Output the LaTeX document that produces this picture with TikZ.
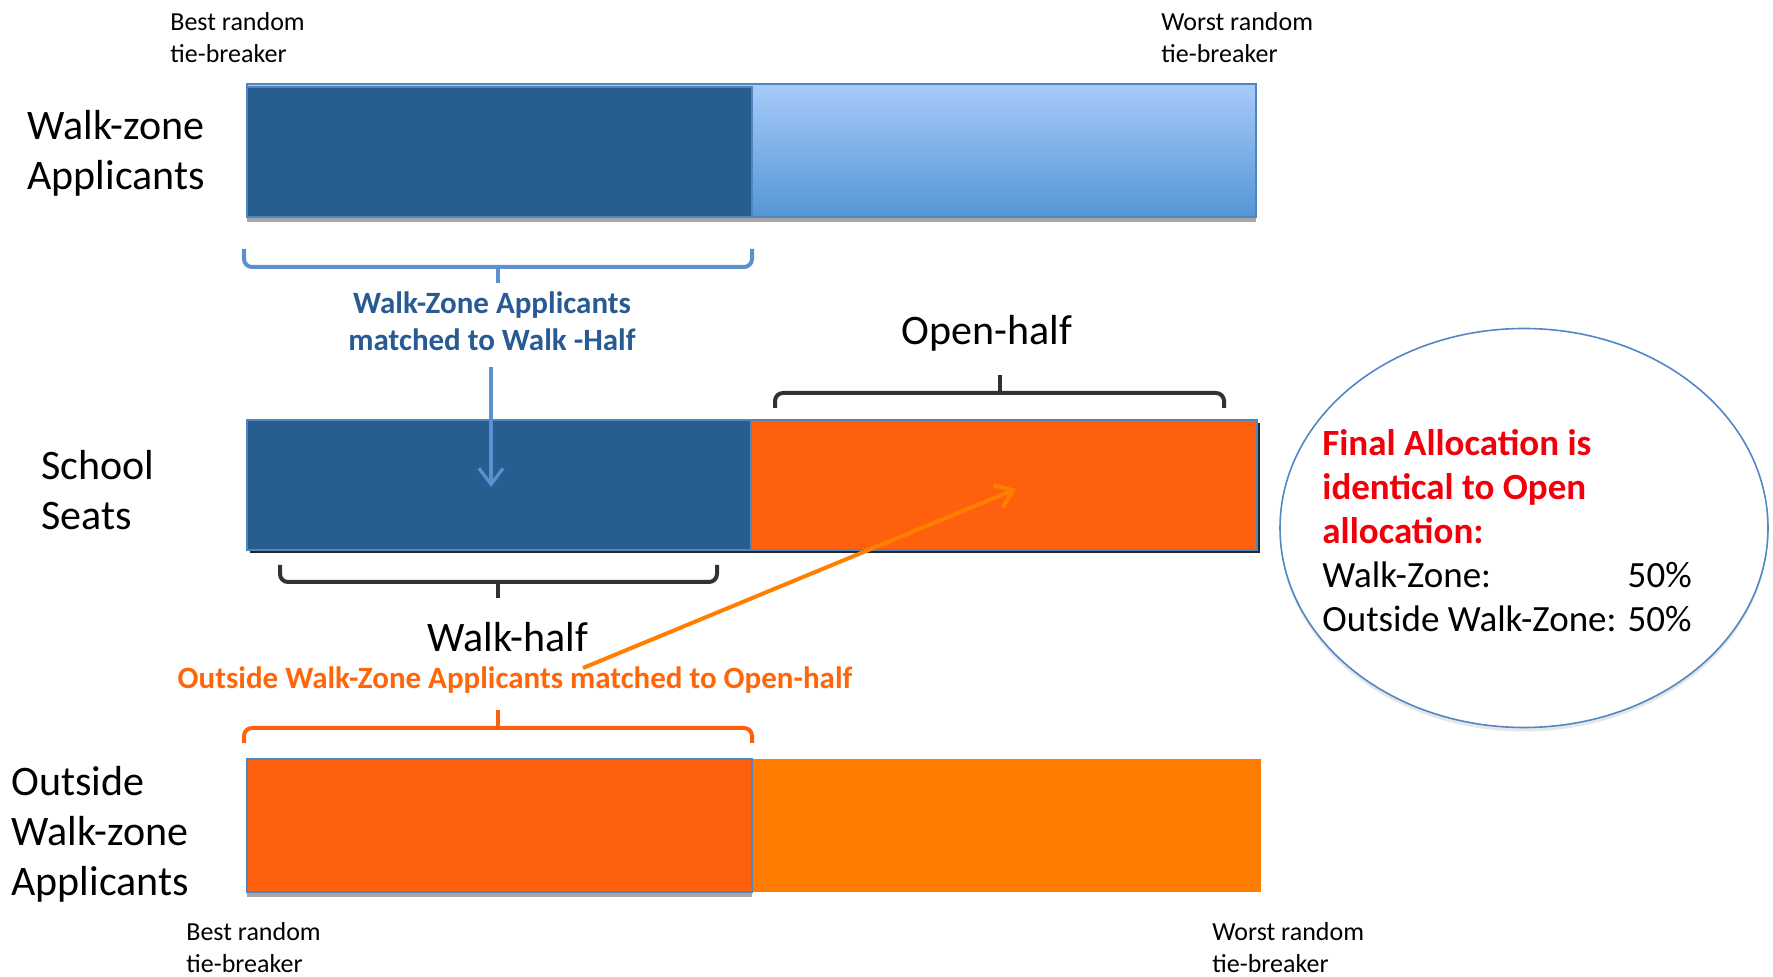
\documentclass[tikz,border=0pt]{standalone}
\usepackage{fontspec}
\setmainfont{Carlito}
\usetikzlibrary{arrows.meta,shadows,shapes.geometric}

\definecolor{walkdark}{RGB}{40,94,143}
\definecolor{walktop}{RGB}{167,203,250}
\definecolor{walkbottom}{RGB}{84,150,214}
\definecolor{barline}{RGB}{82,132,192}
\definecolor{opendark}{RGB}{255,96,14}
\definecolor{openlight}{RGB}{255,124,0}
\definecolor{openarrow}{RGB}{255,128,0}
\definecolor{opentext}{RGB}{255,102,10}
\definecolor{walkbrace}{RGB}{92,144,208}
\definecolor{walktext}{RGB}{40,90,148}
\definecolor{halfbrace}{RGB}{50,50,50}
\definecolor{allocred}{RGB}{240,0,10}
\definecolor{ringline}{RGB}{84,134,198}

\begin{document}
\begin{tikzpicture}[x=0.5pt, y=-0.5pt,
  bar/.style = {rectangle, anchor=north west, inner sep=0pt, outer sep=0pt,
    draw=barline, line width=0.7pt},
  barshadow/.style = {drop shadow={shadow xshift=0pt, shadow yshift=-2.5pt,
    opacity=0.35, fill=black}},
  rowlabel/.style = {anchor=west, align=left, inner sep=0pt,
    font=\fontsize{21}{25}\selectfont},
  halflabel/.style = {inner sep=0pt, font=\fontsize{21}{25}\selectfont},
  endlabel/.style = {anchor=west, align=left, inner sep=0pt,
    font=\fontsize{13}{16}\selectfont},
  matchlabel/.style = {align=center, inner sep=0pt,
    font=\bfseries\fontsize{15.5}{18.5}\selectfont},
  brace/.style = {line width=2pt, rounded corners=4pt},
  match/.style = {-{Straight Barb[length=8pt, width=12pt]}, line width=1.6pt}]
  \useasboundingbox (0,0) rectangle (1773,977);

  % bars
  \node[bar, barshadow, top color=walktop, bottom color=walkbottom,
    minimum width=504.5pt, minimum height=66.5pt] (wzall) at (247,84) {};
  \node[bar, fill=walkdark, minimum width=252.5pt, minimum height=65pt] (wzbest) at (247,87) {};
  \node[bar, fill=opendark, drop shadow={shadow xshift=1.5pt, shadow yshift=-1.5pt,
    opacity=0.85, fill=black}, minimum width=505pt, minimum height=65pt] (seats) at (247,420) {};
  \node[bar, fill=walkdark, minimum width=252pt, minimum height=65pt] (walkseats) at (247,420) {};
  \node[bar, draw=none, fill=openlight, minimum width=507pt, minimum height=66.5pt] (osall) at (247,759) {};
  \node[bar, barshadow, fill=opendark, minimum width=252.5pt, minimum height=66.5pt] (osbest) at (247,759) {};

  % braces
  \draw[brace, walkbrace] (244,249) |- (498,267) -| (752,249);
  \draw[brace, walkbrace] (498,267) -- (498,283);
  \draw[brace, halfbrace] (775,408) |- (1000,393) -| (1224,408);
  \draw[brace, halfbrace] (1000,393) -- (1000,375);
  \draw[brace, halfbrace] (280,565) |- (498,582) -| (717,565);
  \draw[brace, halfbrace] (498,582) -- (498,598);
  \draw[brace, opendark] (244,743) |- (498,728) -| (752,743);
  \draw[brace, opendark] (498,728) -- (498,710);

  % labels
  \node[rowlabel] (wzname) at (27,153) {Walk-zone\\Applicants};
  \node[rowlabel] (seatsname) at (41,490) {School\\Seats};
  \node[rowlabel] (osname) at (11,834) {Outside\\Walk-zone\\Applicants};
  \node[endlabel] (wzbesttag) at (170,38) {Best random\\tie-breaker};
  \node[endlabel] (wzworsttag) at (1161,38) {Worst random\\tie-breaker};
  \node[endlabel] (osbesttag) at (186,948) {Best random\\tie-breaker};
  \node[endlabel] (osworsttag) at (1212,948) {Worst random\\tie-breaker};
  \node[halflabel] (openname) at (987,333) {Open-half};
  \node[halflabel] (walkname) at (508,637) {Walk-half};
  \node[matchlabel, text=walktext] (wzmatch) at (492,321) {Walk-Zone Applicants\\matched to Walk -Half};
  \node[matchlabel, text=opentext] (osmatch) at (515,680) {Outside Walk-Zone Applicants matched to Open-half};

  % arrows
  \coordinate (walktip) at (491,487);
  \coordinate (osstart) at (583,668);
  \coordinate (opentip) at (1016,489);
  \draw[match, walkbrace, shorten <=8pt] (wzmatch.south -| walktip) -- (walktip);
  \draw[match, openarrow, line width=2pt] (osstart) -- (opentip);

  % final allocation
  \node[ellipse, draw=ringline, line width=0.8pt, fill=white,
    drop shadow={shadow xshift=0pt, shadow yshift=-2pt, opacity=0.2},
    minimum width=244pt, minimum height=199.5pt, inner sep=0pt] (ring) at (1524,528) {};
  \node[anchor=west, align=left, inner sep=0pt, font=\fontsize{18.5}{22}\selectfont] (alloc) at (1322,531)
    {\textcolor{allocred}{\bfseries Final Allocation is}\\
     \textcolor{allocred}{\bfseries identical to Open}\\
     \textcolor{allocred}{\bfseries allocation:}\\
     \makebox[0pt][l]{Walk-Zone:}\phantom{Outside Walk-Zone: }50\%\\
     Outside Walk-Zone: 50\%};
\end{tikzpicture}
\end{document}
